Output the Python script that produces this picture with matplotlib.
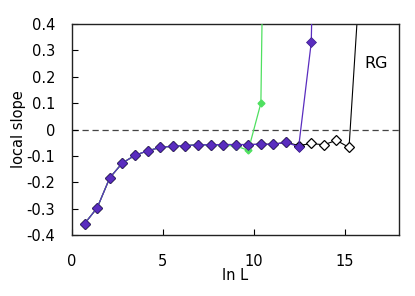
import matplotlib
matplotlib.use('Agg')
import matplotlib.pyplot as plt
import numpy as np

plt.rcParams['font.family'] = 'DejaVu Sans'
plt.rcParams['font.size'] = 10.5

# data: ln L = k ln 2
k_black = np.arange(1, 24)
y_black = [-0.357, -0.297, -0.183, -0.127, -0.098, -0.081, -0.068, -0.063,
           -0.061, -0.058, -0.058, -0.057, -0.057, -0.057, -0.056, -0.056,
           -0.048, -0.061, -0.053, -0.058, -0.041, -0.068, 0.68]
k_green = np.arange(1, 17)
y_green = [-0.357, -0.297, -0.183, -0.127, -0.098, -0.081, -0.068, -0.063,
           -0.061, -0.058, -0.059, -0.060, -0.062, -0.079, 0.10, 3.5]
k_purple = np.arange(1, 21)
y_purple = [-0.357, -0.297, -0.183, -0.127, -0.098, -0.081, -0.068, -0.063,
            -0.061, -0.058, -0.058, -0.057, -0.057, -0.057, -0.056, -0.056,
            -0.048, -0.066, 0.33, 2.7]

x_black = k_black * np.log(2)
x_green = k_green * np.log(2)
x_purple = k_purple * np.log(2)

fig = plt.figure(figsize=(4.15, 2.96), dpi=100)
ax = fig.add_axes([72/415, 1 - 235/296, 327/415, 211/296])

ax.axhline(0, color='#444444', lw=0.9, ls=(0, (5, 3)), zorder=1)
ax.plot(x_black, y_black, color='black', lw=0.8, marker='D', ms=5,
        mfc='white', mec='black', mew=0.9, zorder=2)
ax.plot(x_green, y_green, color='#4fe060', lw=0.9, marker='D', ms=3.5,
        mfc='#4fe060', mec='#4fe060', zorder=3)
ax.plot(x_purple, y_purple, color='#5a2dbf', lw=0.9, marker='D', ms=5,
        mfc='#5a2dbf', mec='#3a1d8a', mew=0.5, zorder=4)

ax.text(16.1, 0.25, 'RG', fontsize=11.5, ha='left', va='center')

ax.set_xlim(0, 18)
ax.set_ylim(-0.4, 0.4)
ax.set_xticks([0, 5, 10, 15])
ax.set_yticks(np.round(np.arange(-0.4, 0.41, 0.1), 1))
ax.set_yticklabels(['-0.4', '-0.3', '-0.2', '-0.1', '0', '0.1', '0.2', '0.3', '0.4'])
ax.tick_params(direction='in', length=4, width=0.8, top=False, right=False)
ax.tick_params(axis='x', pad=14)
ax.tick_params(axis='y', pad=12)
for s in ax.spines.values():
    s.set_linewidth(1.0)
    s.set_color('#222222')

ax.set_xlabel('ln L', labelpad=-1)
ax.set_ylabel('local slope', labelpad=0)

fig.savefig('out.png', dpi=100)
